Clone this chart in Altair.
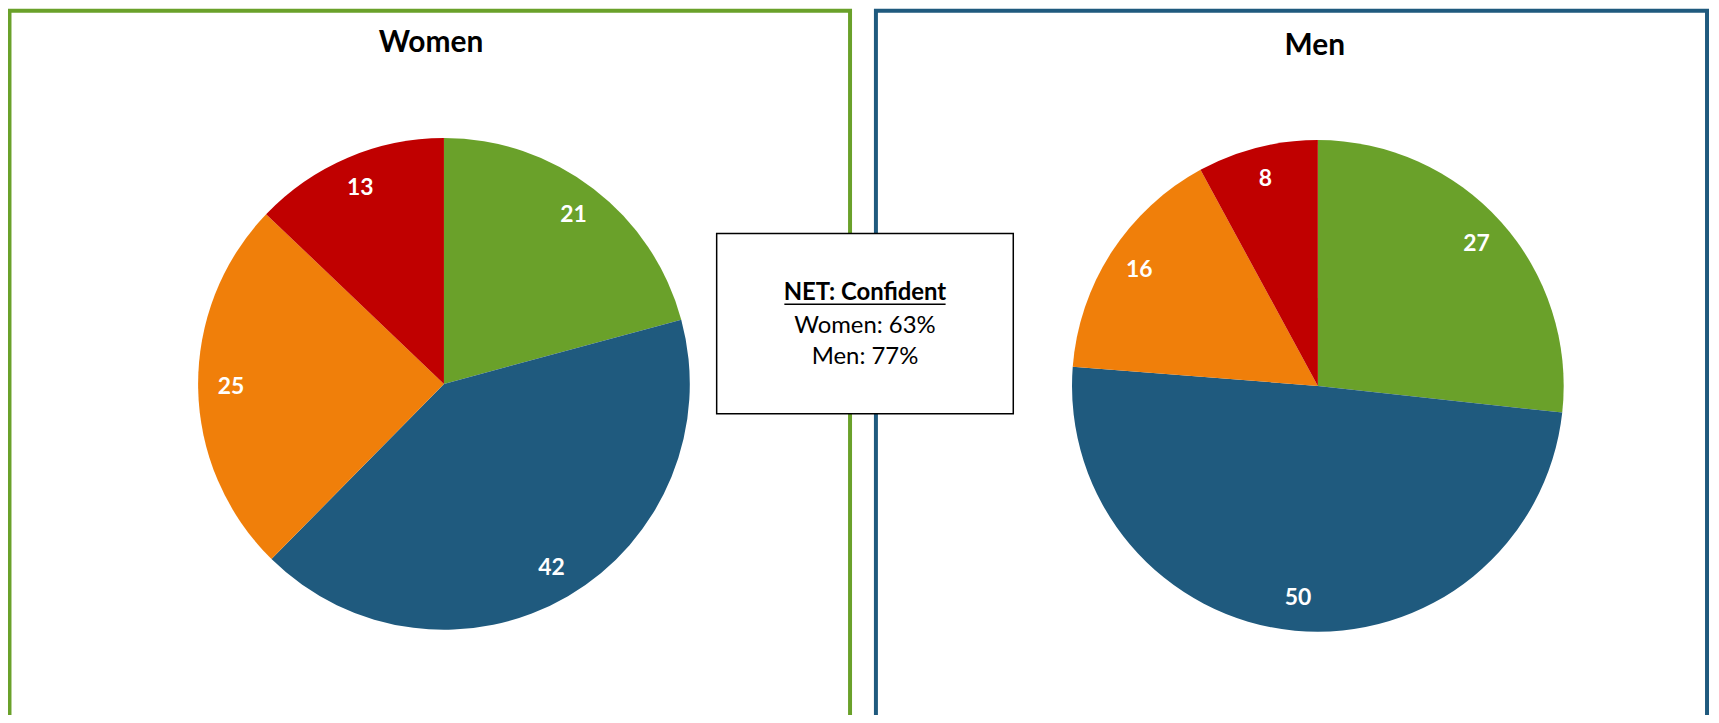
import altair as alt
import pandas as pd

# ---- data ----
categories = ["Very confident", "Somewhat confident", "Not very confident", "Not at all confident"]
women_values = [21, 42, 25, 13]
men_values = [27, 50, 16, 8]
colors = ["#6AA12A", "#1F5A7E", "#F07F0A", "#C00000"]
group_titles = ["Women", "Men"]
box_title = "NET: Confident"
box_lines = ["Women: 63%", "Men: 77%"]

FONT = "Lato"
R = 247
LABEL_R = 214
one = pd.DataFrame({"a": [0]})


def pie(values, cx, cy):
    df = pd.DataFrame({"category": categories, "value": values, "order": list(range(len(values)))})
    base = alt.Chart(df)
    arc = base.mark_arc(outerRadius=R).encode(
        theta=alt.Theta("value:Q", stack=True),
        color=alt.Color("category:N", scale=alt.Scale(domain=categories, range=colors), legend=None),
        order=alt.Order("order:Q"),
        x=alt.value(cx),
        y=alt.value(cy),
    )
    lab = base.mark_text(radius=LABEL_R, font=FONT, fontSize=23, fontWeight="bold",
                         color="white", align="center", baseline="middle").encode(
        theta=alt.Theta("value:Q", stack=True),
        detail="category:N",
        order=alt.Order("order:Q"),
        text=alt.Text("value:Q"),
        x=alt.value(cx),
        y=alt.value(cy),
    )
    return alt.layer(arc, lab)


def border(x1, x2, col):
    return alt.Chart(one).mark_rect(filled=False, stroke=col, strokeWidth=4).encode(
        x=alt.value(x1), x2=alt.value(x2), y=alt.value(1), y2=alt.value(730)
    )


def label(txt, x, y, size, weight="bold"):
    return alt.Chart(one).mark_text(text=txt, font=FONT, fontSize=size, fontWeight=weight,
                                    color="black", align="center", baseline="alphabetic").encode(
        x=alt.value(x), y=alt.value(y)
    )


left_border = border(1.5, 846, colors[0])
right_border = border(872, 1707, colors[1])

women_title = label(group_titles[0], 425, 43, 30)
men_title = label(group_titles[1], 1313, 46, 30)

BOX_CX = 861
box = alt.Chart(one).mark_rect(fill="white", stroke="black", strokeWidth=1.5).encode(
    x=alt.value(712), x2=alt.value(1010), y=alt.value(225), y2=alt.value(406)
)
box_head = label(box_title, BOX_CX, 292, 24)
underline = alt.Chart(one).mark_rule(color="black", strokeWidth=1.5).encode(
    x=alt.value(BOX_CX - 81), x2=alt.value(BOX_CX + 81), y=alt.value(296)
)
box_l1 = label(box_lines[0], BOX_CX, 325, 24, "normal")
box_l2 = label(box_lines[1], BOX_CX, 356, 24, "normal")

chart = alt.layer(
    left_border, right_border,
    pie(women_values, 438, 376),
    pie(men_values, 1316, 378),
    women_title, men_title,
    box, box_head, underline, box_l1, box_l2,
).resolve_scale(theta="independent").properties(
    width=1711, height=707, autosize=alt.AutoSizeParams(type="none"), padding=0
).configure_view(stroke=None)

chart.save("out.html", embed_options={"renderer": "svg", "actions": False})
